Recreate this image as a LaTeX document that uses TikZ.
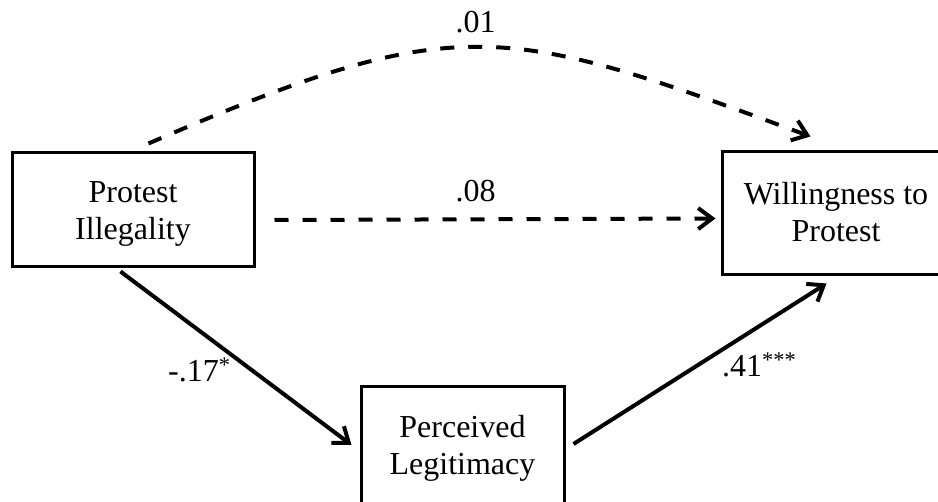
\documentclass[tikz,border=0pt]{standalone}
\usepackage{fontspec}
\setmainfont{Liberation Serif}
\usetikzlibrary{arrows.meta,calc}
% two centred lines, lowered by #1 while keeping their nominal extent
\newcommand{\boxlines}[3]{\raisebox{#1}[\height][\depth]{\begin{tabular}{@{}c@{}}#2\\#3\end{tabular}}}
\begin{document}
\begin{tikzpicture}[x=1pt,y=-1pt,
  varbox/.style={draw,line width=3pt,inner sep=0pt,
    font=\fontsize{32}{37}\selectfont},
  coef/.style={font=\fontsize{32}{37}\selectfont,inner sep=0pt},
  path/.style={line width=4pt,
    -{Straight Barb[length=14pt,width=21pt,line width=4pt]}},
  nsdash/.style={path,dash pattern=on 14pt off 14pt}]
  \useasboundingbox (0,0) rectangle (938,502);
  \clip (0,0) rectangle (938,502);

  % variables
  \node[varbox,minimum width=242pt,minimum height=114pt] (pi) at (133,210)
    {\boxlines{-4pt}{Protest}{Illegality}};
  \node[varbox,minimum width=228pt,minimum height=123pt] (wp) at (836,213.5)
    {\boxlines{-2.5pt}{Willingness to}{Protest}};
  \node[varbox,minimum width=203pt,minimum height=118pt] (pl) at (462.5,446)
    {\boxlines{-3pt}{Perceived}{Legitimacy}};

  % endpoints of the paths, offset from the boxes
  \coordinate (c0) at ($(pi.north west)+(138,-8)$);
  \coordinate (c1) at ($(wp.north west)+(90,-14)$);
  \coordinate (d0) at ($(pi.east)+(19,10)$);
  \coordinate (d1) at ($(wp.west)+(-5,5)$);
  \coordinate (a0) at ($(pi.south west)+(110,3)$);
  \coordinate (a1) at ($(pl.west)+(-8,-1)$);
  \coordinate (b0) at ($(pl.east)+(8,-2)$);
  \coordinate (b1) at ($(wp.south west)+(106,7)$);

  % total effect (curved) and direct effect
  \draw[nsdash] (c0) .. controls (460,9) and (502,23) .. (c1);
  \draw[nsdash] (d0) -- (d1);
  % indirect path
  \draw[path] (a0) -- (a1);
  \draw[path] (b0) -- (b1);

  % coefficients
  \node[coef,anchor=base] (l01) at (475.5,33) {.01};
  \node[coef,anchor=base] (l08) at (475.5,202) {.08};
  \node[coef,anchor=base west] (l17) at (168,382) {-.17\textsuperscript{*}};
  \node[coef,anchor=base west] (l41) at (722,377) {.41\textsuperscript{***}};
\end{tikzpicture}
\end{document}
